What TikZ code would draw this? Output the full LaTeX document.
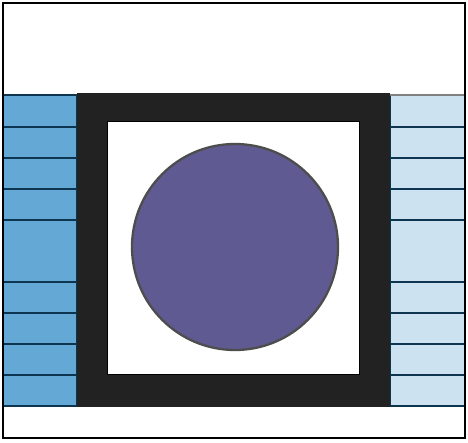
\documentclass[tikz,border=0pt]{standalone}
\definecolor{colA}{HTML}{64A8D6}
\definecolor{colB}{HTML}{CCE2F0}
\definecolor{frameC}{HTML}{222222}
\definecolor{circC}{HTML}{5F5B92}
\definecolor{circE}{HTML}{4D4D4D}
\definecolor{lineC}{HTML}{0E3550}
\tikzset{
  outerbox/.style={draw=black, line width=2pt},
  stripA/.style={fill=colA, draw=lineC, line width=1.3pt},
  stripB/.style={fill=colB, draw=lineC, line width=1.3pt},
  rowline/.style={draw=lineC, line width=1.3pt},
  framebox/.style={fill=frameC},
  holebox/.style={fill=white, draw=black, line width=1pt},
  disc/.style={fill=circC, draw=circE, line width=2.3pt}
}
\begin{document}
\begin{tikzpicture}[x=1pt,y=-1pt]
\useasboundingbox (0,0) rectangle (468,442);
\fill[white] (0,0) rectangle (468,442);
\draw[outerbox] (3,3) rectangle (465,438);
% left strip
\path[stripA] (3,95) rectangle (77,406);
\foreach \y in {127,158,189,220,282,313,344,375}
  \draw[rowline] (3,\y) -- (77,\y);
% right strip
\path[stripB] (390,95) rectangle (465,406);
\draw[gray, line width=1.5pt] (390,95) -- (465,95);
\foreach \y in {127,158,189,220,282,313,344,375}
  \draw[rowline] (390,\y) -- (465,\y);
\draw[outerbox] (465,3) -- (465,438);
\draw[outerbox] (3,3) -- (3,438);
% frame
\path[framebox] (77,93) rectangle (390,407);
\path[holebox] (107,121.5) rectangle (359,374);
% disc
\node[disc, circle, minimum size=206pt, inner sep=0pt] (c) at (235,247) {};
\end{tikzpicture}
\end{document}
